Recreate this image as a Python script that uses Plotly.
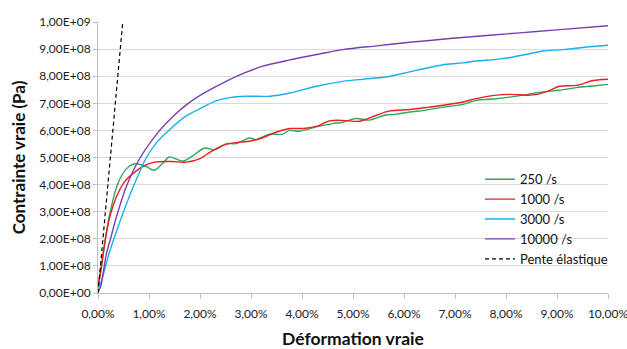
import plotly.graph_objects as go

# ---- data (strain in %, stress in units of 1e8 Pa) ----
x_250 = [0, 0.07, 0.16, 0.26, 0.39, 0.56, 0.7, 0.82, 0.95, 1.1, 1.25, 1.4, 1.55, 1.67, 1.85, 2.09, 2.29, 2.52, 2.71, 2.97,
         3.1, 3.36, 3.62, 3.75, 3.95, 4.28, 4.6, 4.8, 5.06, 5.32, 5.62, 5.85, 6.11, 6.4, 6.77, 7.16, 7.42, 7.81, 8.07,
         8.4, 8.73, 9.05, 9.38, 9.7, 10]
y_250 = [0.2, 0.96, 2.19, 3.17, 4.04, 4.59, 4.76, 4.75, 4.66, 4.53, 4.75, 5.02, 4.93, 4.87, 5.05, 5.35, 5.29, 5.51, 5.51,
         5.72, 5.66, 5.86, 5.86, 6.0, 5.97, 6.13, 6.25, 6.3, 6.44, 6.38, 6.56, 6.6, 6.68, 6.74, 6.86, 6.96, 7.11, 7.17,
         7.23, 7.32, 7.42, 7.48, 7.58, 7.64, 7.70]

x_1000 = [0, 0.03, 0.13, 0.23, 0.36, 0.52, 0.72, 0.92, 1.11, 1.45, 1.73, 2.0, 2.2, 2.45, 2.78, 2.97, 3.23, 3.5, 3.76,
          4.02, 4.28, 4.54, 4.8, 5.13, 5.46, 5.72, 6.11, 6.5, 6.77, 7.16, 7.42, 7.81, 8.07, 8.46, 8.6, 8.86, 9.05, 9.38,
          9.71, 10]
y_1000 = [0.33, 0.59, 1.82, 2.8, 3.54, 4.1, 4.46, 4.71, 4.83, 4.85, 4.83, 4.96, 5.2, 5.45, 5.57, 5.6, 5.73, 5.94, 6.07,
          6.07, 6.15, 6.35, 6.37, 6.34, 6.56, 6.72, 6.77, 6.86, 6.93, 7.05, 7.17, 7.30, 7.33, 7.30, 7.33, 7.48, 7.63,
          7.66, 7.84, 7.89]

x_3000 = [0, 0.05, 0.1, 0.2, 0.33, 0.5, 0.72, 0.95, 1.15, 1.39, 1.7, 2.06, 2.3, 2.58, 2.91, 3.37, 3.76, 4.28, 4.8, 5.2,
          5.65, 6.11, 6.5, 6.83, 7.16, 7.42, 7.81, 8.14, 8.46, 8.73, 9.12, 9.5, 10]
y_3000 = [0.15, 0.35, 0.65, 1.35, 2.1, 3.0, 4.05, 5.0, 5.55, 6.0, 6.5, 6.86, 7.08, 7.21, 7.26, 7.26, 7.38, 7.63,
          7.81, 7.89, 7.97, 8.16, 8.32, 8.44, 8.49, 8.56, 8.62, 8.71, 8.83, 8.93, 8.98, 9.06, 9.14]

x_10000 = [0, 0.05, 0.1, 0.16, 0.26, 0.36, 0.56, 0.83, 1.21, 1.45, 1.75, 2.1, 2.55, 2.91, 3.23, 3.76, 4.34, 4.8,
           5.46, 6.11, 6.5, 7.2, 8.27, 9.0, 10]
y_10000 = [0.04, 0.22, 0.72, 1.4, 2.1, 2.8, 3.95, 5.0, 6.0, 6.48, 6.97, 7.4, 7.85, 8.15, 8.37, 8.6, 8.82,
           8.98, 9.12, 9.25, 9.32, 9.44, 9.6, 9.71, 9.86]

x_elast = [0, 0.485]
y_elast = [0, 10]

series_names = ["250 /s", "1000 /s", "3000 /s", "10000 /s", "Pente élastique"]

x_tickvals = [0, 1, 2, 3, 4, 5, 6, 7, 8, 9, 10]
x_ticktext = ["0,00%", "1,00%", "2,00%", "3,00%", "4,00%", "5,00%", "6,00%", "7,00%", "8,00%", "9,00%", "10,00%"]
y_tickvals = [0, 1, 2, 3, 4, 5, 6, 7, 8, 9, 10]
y_ticktext = ["0,00E+00", "1,00E+08", "2,00E+08", "3,00E+08", "4,00E+08", "5,00E+08",
              "6,00E+08", "7,00E+08", "8,00E+08", "9,00E+08", "1,00E+09"]

colors = ["#2ea85a", "#ee1c24", "#1ab0ea", "#7a3fae", "#000000"]

fig = go.Figure()
data = [(x_250, y_250), (x_1000, y_1000), (x_3000, y_3000), (x_10000, y_10000)]
for (xs, ys), name, c in zip(data, series_names[:4], colors[:4]):
    fig.add_trace(go.Scatter(x=xs, y=ys, mode="lines", name=name,
                             line=dict(color=c, width=1.4, shape="spline", smoothing=0.9)))
fig.add_trace(go.Scatter(x=x_elast, y=y_elast, mode="lines", name=series_names[4],
                         line=dict(color=colors[4], width=1.2, dash="4px,3px")))

font_family = "Lato, 'Open Sans', sans-serif"
fig.update_layout(
    width=627, height=349,
    margin=dict(l=98, r=19, t=22, b=56),
    paper_bgcolor="white", plot_bgcolor="white",
    font=dict(family=font_family, size=12, color="#222222"),
    showlegend=True,
    legend=dict(x=0.749, y=0.475, xanchor="left", yanchor="top",
                bgcolor="rgba(0,0,0,0)", font=dict(size=13, color="#111111"),
                itemwidth=30, tracegroupgap=0),
)
fig.update_xaxes(
    range=[0, 10], tickvals=x_tickvals, ticktext=x_ticktext,
    showgrid=False, zeroline=False, automargin=False,
    showline=True, linecolor="#bfbfbf", linewidth=1,
    ticks="outside", ticklen=5, tickcolor="#bfbfbf",
    ticklabelstandoff=5, ticklabeloverflow="allow",
    tickfont=dict(size=12, color="#222222"),
    title=dict(text="<b>Déformation vraie</b>", font=dict(size=17.5, color="#111111"), standoff=13),
)
fig.update_yaxes(
    range=[0, 10], tickvals=y_tickvals, ticktext=y_ticktext,
    showgrid=True, gridcolor="#d9d9d9", gridwidth=1, zeroline=False, automargin=False,
    showline=True, linecolor="#bfbfbf", linewidth=1,
    ticks="outside", ticklen=4, tickcolor="#bfbfbf",
    ticklabeloverflow="allow",
    tickfont=dict(size=12, color="#222222"),
    title=dict(text="<b>Contrainte vraie (Pa)</b>", font=dict(size=17, color="#111111"), standoff=9),
)

fig.write_html("out.html", config={"displayModeBar": False},
               post_script="document.body.style.margin='0';document.body.style.overflow='hidden';")
